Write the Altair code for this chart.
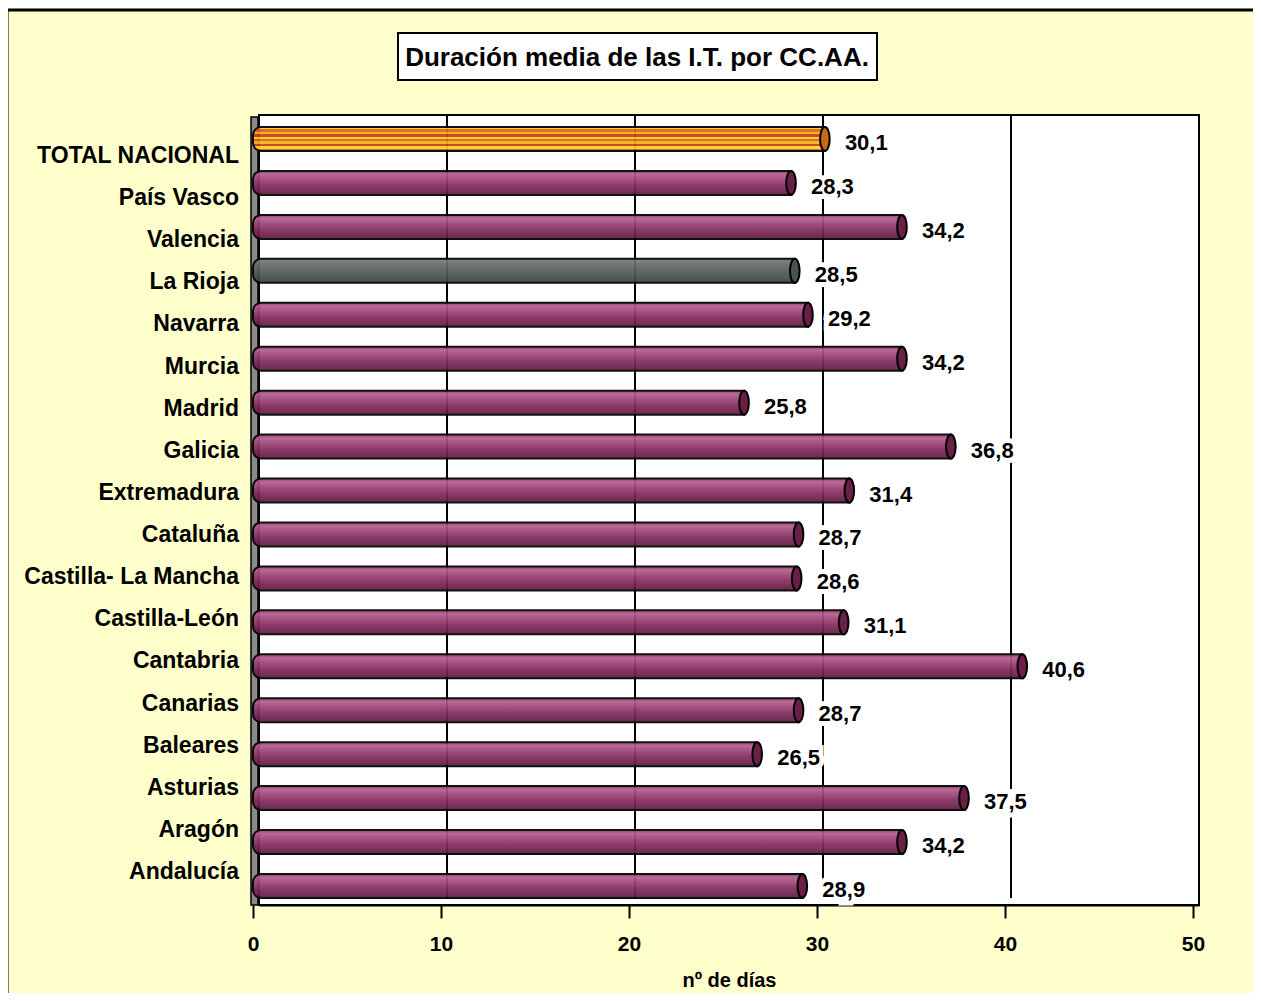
import altair as alt
import pandas as pd

# ---- data ----
regions = ["TOTAL NACIONAL", "País Vasco", "Valencia", "La Rioja", "Navarra", "Murcia",
           "Madrid", "Galicia", "Extremadura", "Cataluña", "Castilla- La Mancha",
           "Castilla-León", "Cantabria", "Canarias", "Baleares", "Asturias", "Aragón",
           "Andalucía"]
values = [30.1, 28.3, 34.2, 28.5, 29.2, 34.2, 25.8, 36.8, 31.4, 28.7, 28.6, 31.1,
          40.6, 28.7, 26.5, 37.5, 34.2, 28.9]
kinds = ["total", "normal", "normal", "rioja"] + ["normal"] * 14
x_ticks = [0, 10, 20, 30, 40, 50]
grid_ticks = [10, 20, 30, 40]
title_text = "Duración media de las I.T. por CC.AA."
x_title = "nº de días"

df = pd.DataFrame({"region": regions, "value": values, "kind": kinds})
one = pd.DataFrame({"a": [0]})
grid_df = pd.DataFrame({"g": grid_ticks})

FONT = "Liberation Sans"
W, H = 940, 790

xscale = alt.Scale(domain=[0, 50], nice=False, zero=True)
xaxis = alt.Axis(values=x_ticks, title=x_title, grid=False, tickOffset=-6,
                 labelFont=FONT, labelFontSize=21, labelFontWeight="bold",
                 labelColor="black", tickColor="black", tickWidth=2,
                 tickSize=13, labelPadding=15, domainColor="black",
                 domainWidth=2, titleFont=FONT, titleFontSize=20,
                 titleFontWeight="bold", titleColor="black",
                 titlePadding=16, labelFlush=False)


def X(field):
    return alt.X(field, scale=xscale, axis=xaxis)


ybars = alt.Y("region:N", sort=regions, axis=None,
              scale=alt.Scale(type="point", domain=regions, range=[24, 771], padding=0))
ylabels = alt.Y("region:N", sort=regions, axis=None,
                scale=alt.Scale(type="point", domain=regions, range=[41, 757], padding=0))


def grad(stops):
    return alt.Gradient(gradient="linear", x1=0, x2=0, y1=0, y2=1,
                        stops=[alt.GradientStop(offset=o, color=c) for o, c in stops])


purple = grad([(0, "#8f3a68"), (0.15, "#b45f8e"), (0.35, "#a04678"),
               (0.6, "#862d60"), (1, "#5c1a3e")])
stripes = []
cols = ["#ffd21a", "#e0601a", "#f8b01a", "#c8401a"]
n = 10
for i in range(n):
    c = cols[i % len(cols)]
    stripes.append((i / n, c))
    stripes.append(((i + 1) / n - 0.001, c))
orange = grad(stripes)
grey = grad([(0, "#76807c"), (0.3, "#606a66"), (1, "#3a4240")])

base = alt.Chart(df)

# outer frame and decorations
frame = alt.Chart(one).mark_rect(fill=None, stroke="black", strokeWidth=3).encode(
    x=alt.value(-252), x2=alt.value(1100), y=alt.value(-105), y2=alt.value(1000))
wall = alt.Chart(one).mark_rect(fill="#8a8a8a", stroke="black", strokeWidth=1.5).encode(
    x=alt.value(-8), x2=alt.value(-1), y=alt.value(2), y2=alt.value(H))
title_box = alt.Chart(one).mark_rect(fill="white", stroke="black", strokeWidth=2).encode(
    x=alt.value(139), x2=alt.value(618), y=alt.value(-82), y2=alt.value(-35))
title = alt.Chart(one).mark_text(text=title_text, font=FONT, fontSize=26,
                                 fontWeight="bold", align="center", baseline="middle",
                                 color="black").encode(
    x=alt.value(378), y=alt.value(-57))

grid = alt.Chart(grid_df).mark_rule(color="black", strokeWidth=2).encode(
    x=X("g:Q"), y=alt.value(0), y2=alt.value(H - 7))


def bars(kind, fill, capcol):
    d = base.transform_filter(alt.datum.kind == kind)
    b = d.mark_bar(fill=fill, stroke="black", strokeWidth=2, size=24, opacity=0.93,
                   x2Offset=-6, cornerRadiusTopLeft=8, cornerRadiusBottomLeft=8).encode(
        x=X("value:Q"), x2=alt.datum(0), y=ybars)
    cap = d.mark_point(shape="M0,-1A0.4,1,0,1,1,0,1A0.4,1,0,1,1,0,-1Z", size=576,
                       filled=True, fill=capcol, stroke="black", strokeWidth=2,
                       opacity=1).encode(
        x=X("value:Q"), y=ybars)
    return b + cap


b_normal = bars("normal", purple, "#6a1f46")
b_total = bars("total", orange, "#c86a10")
b_rioja = bars("rioja", grey, "#4c5452")

lbl = base.transform_calculate(
    lbl="replace(format(datum.value, '.1f'), '.', ',')")
halo = lbl.mark_text(font=FONT, fontSize=22, fontWeight="bold", align="left",
                     baseline="middle", dx=20, dy=4, stroke="white", strokeWidth=10,
                     color="white").encode(
    x=X("value:Q"), y=ybars, text="lbl:N")
vlabels = lbl.mark_text(font=FONT, fontSize=22, fontWeight="bold", align="left",
                        baseline="middle", dx=20, dy=4, color="black").encode(
    x=X("value:Q"), y=ybars, text="lbl:N")

cat_labels = base.mark_text(font=FONT, fontSize=23, fontWeight="bold", align="right",
                            baseline="middle", color="black").encode(
    x=alt.value(-20), y=ylabels, text="region:N")

chart = alt.layer(
    frame, wall, grid, b_normal, b_total, b_rioja, halo, vlabels,
    cat_labels, title_box, title
).resolve_scale(y="independent").properties(
    width=W, height=H,
    autosize=alt.AutoSizeParams(type="none"),
    padding={"left": 251, "top": 107, "right": 54, "bottom": 88},
    background="#FFFFCC",
).configure_view(fill="white", stroke="black", strokeWidth=2)

chart.save("out.html", embed_options={"renderer": "svg", "actions": False})
